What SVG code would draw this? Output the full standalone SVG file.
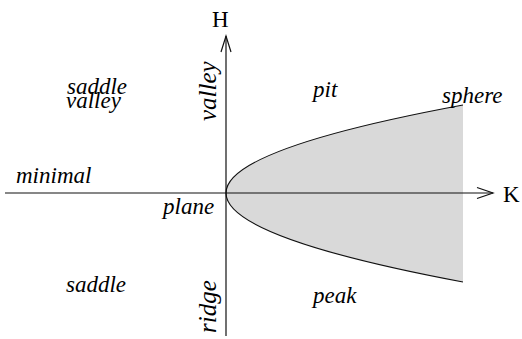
<svg xmlns="http://www.w3.org/2000/svg" width="522" height="339" viewBox="0 0 522 339">
<style>
text{font-family:'Liberation Serif','Times New Roman',Times,serif;fill:#000}
.lbl{font-style:italic;font-size:23px}
.rot{font-size:25px}
.ax{font-style:normal;font-size:23px}
.line{stroke:#111;stroke-width:1.2;fill:none}
</style>
<g id="region">
<path d="M463,105 Q226,149 226,193 Q226,237.5 463,282 Z" fill="#d9d9d9" stroke="none"/>
<path d="M463,105 Q226,149 226,193 Q226,237.5 463,282" class="line"/>
</g>
<g id="connectors">
<line x1="5" y1="193" x2="493" y2="193" class="line"/>
<polyline points="477,187.5 493,193 477,198.5" class="line"/>
<line x1="226" y1="336" x2="226" y2="36" class="line"/>
<polyline points="221,52 226,36 231,52" class="line"/>
</g>
<g id="axis-H"><text class="ax" x="212" y="27">H</text></g>
<g id="axis-K"><text class="ax" x="503" y="202">K</text></g>
<g id="saddle-valley"><text class="lbl" x="67" y="94">saddle</text><text class="lbl" x="66" y="108">valley</text></g>
<g id="valley"><text class="lbl rot" transform="translate(216,121) rotate(-90)">valley</text></g>
<g id="pit"><text class="lbl" x="313" y="97">pit</text></g>
<g id="sphere"><text class="lbl" x="442" y="103">sphere</text></g>
<g id="minimal"><text class="lbl" x="16" y="183">minimal</text></g>
<g id="plane"><text class="lbl" x="163" y="214">plane</text></g>
<g id="saddle"><text class="lbl" x="66" y="292">saddle</text></g>
<g id="ridge"><text class="lbl rot" transform="translate(216,333) rotate(-90)">ridge</text></g>
<g id="peak"><text class="lbl" x="313" y="303">peak</text></g>
</svg>
